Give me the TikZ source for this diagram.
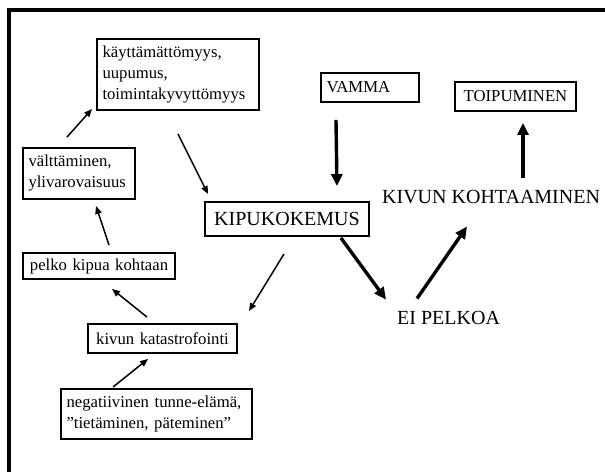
\documentclass[tikz,border=0pt]{standalone}
\usepackage{fontspec}
\setmainfont{Liberation Serif}
\usetikzlibrary{arrows.meta,calc}
\begin{document}
\begin{tikzpicture}[x=1pt,y=-1pt,
  box/.style={draw,line width=1.9pt,align=left,inner xsep=5.5pt,inner ysep=0pt,
    font=\fontsize{16.7}{21}\selectfont},
  big/.style={inner sep=0pt,font=\fontsize{20}{24}\selectfont},
  thin/.style={line width=1.5pt,-{Triangle[length=8pt,width=6.5pt]}},
  thick/.style={line width=3.4pt,-{Triangle[length=12pt,width=11pt]}}]
\useasboundingbox (0,0) rectangle (605,472);
\fill[white] (0,0) rectangle (605,472);
\draw[line width=4pt] (605,9.5) -- (8.5,9.5) -- (8.5,472);
% boxes
\node[box,text width=151pt,minimum height=71pt] (kaytt) at (178,74.5)
  {käyttämättömyys,\\uupumus,\\toimintakyvyttömyys};
\node[box,text width=101pt,minimum height=51pt] (valtt) at (79,173.5)
  {välttäminen,\\ylivarovaisuus};
\node[box,text width=141pt,minimum height=26pt,align=center] (pelko) at (99,266)
  {pelko kipua kohtaan};
\node[box,text width=138pt,minimum height=29pt,align=center] (katast) at (162.5,338.5)
  {kivun katastrofointi};
\node[box,text width=180pt,minimum height=50pt] (negat) at (156.5,414)
  {negatiivinen tunne-elämä,\\”tietäminen, päteminen”};
\node[box,text width=87pt,minimum height=29pt] (vamma) at (370,87.5) {VAMMA};
\node[box,text width=110pt,minimum height=29pt,align=center] (toip) at (515.5,96.5) {TOIPUMINEN};
\node[box,font=\fontsize{20}{24}\selectfont,text width=153pt,minimum height=34pt,align=center] (kipu) at (287,219) {KIPUKOKEMUS};
\node[big,anchor=base west] (kivun) at (382,203) {KIVUN KOHTAAMINEN};
\node[big,anchor=base west] (eip) at (397,324) {EI PELKOA};
% thin arrows
\draw[thin] ($(valtt.north)+(-12,-10)$) -- ($(kaytt.south west)+(-4,-2)$);
\draw[thin] ($(kaytt.south)+(0,23)$) -- ($(kipu.north west)+(4,-7)$);
\draw[thin] ($(pelko.north)+(10,-7)$) -- ($(valtt.south)+(17,6)$);
\draw[thin] ($(katast.north)+(-15.5,-6)$) -- ($(pelko.south)+(13,9)$);
\draw[thin] ($(kipu.south)+(-3,17)$) -- ($(katast.north east)+(11,-12)$);
\draw[thin] ($(negat.north)+(-43.5,-1)$) -- ($(katast.south)+(-14.5,5)$);
% thick arrows
\draw[thick] ($(vamma.south)+(-34,17)$) -- ($(kipu.north east)+(-33,-15)$);
\draw[thick] ($(kipu.south east)+(-29,1)$) -- ($(eip.north west)+(-11,-11)$);
\draw[thick] ($(eip.north west)+(20,-12)$) -- ($(kivun.south west)+(85,23)$);
\draw[thick] ($(kivun.north west)+(141,-12)$) -- ($(toip.south)+(7.5,11)$);
\end{tikzpicture}
\end{document}
